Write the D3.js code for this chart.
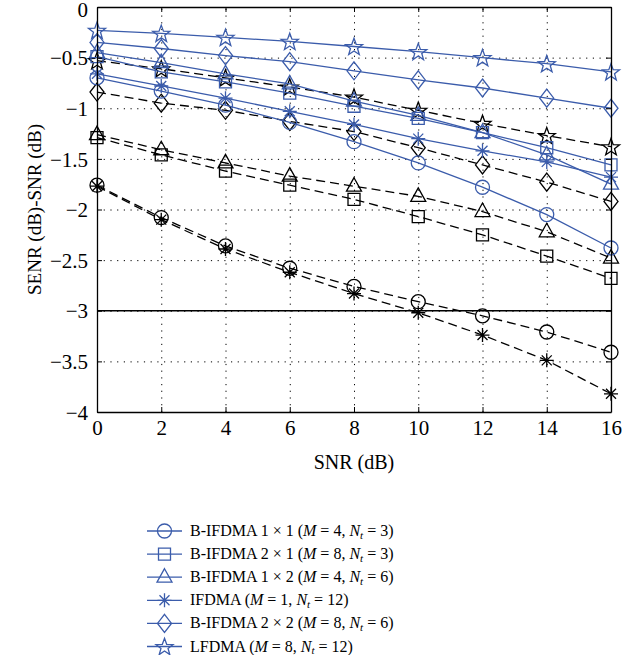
<!DOCTYPE html>
<html>
<head>
<meta charset="utf-8">
<script src="https://cdn.jsdelivr.net/npm/d3@7"></script>
<style>
  body { margin: 0; background: #fff; }
  text { font-family: "Liberation Serif", "Times New Roman", serif; }
</style>
</head>
<body>
<div id="main"></div>
<script>
'use strict'

// data
const snr = [0, 2, 4, 6, 8, 10, 12, 14, 16];
const xTicks = [0, 2, 4, 6, 8, 10, 12, 14, 16];
const yTicks = [0, -0.5, -1, -1.5, -2, -2.5, -3, -3.5, -4];
const refLevel = -3;

// solid blue curves
const blueCircle   = [-0.70, -0.83, -0.97, -1.14, -1.33, -1.54, -1.78, -2.05, -2.38];
const blueSquare   = [-0.49, -0.64, -0.74, -0.85, -0.98, -1.10, -1.24, -1.39, -1.56];
const blueTriangle = [-0.45, -0.55, -0.66, -0.76, -0.93, -1.07, -1.24, -1.46, -1.75];
const blueStarAst  = [-0.66, -0.78, -0.90, -1.03, -1.16, -1.30, -1.42, -1.53, -1.68];
const blueDiamond  = [-0.35, -0.41, -0.48, -0.54, -0.63, -0.72, -0.80, -0.90, -1.00];
const bluePenta    = [-0.23, -0.26, -0.30, -0.34, -0.39, -0.44, -0.50, -0.56, -0.64];

// dashed black curves
const blackCircle   = [-1.76, -2.08, -2.36, -2.58, -2.76, -2.91, -3.05, -3.21, -3.41];
const blackSquare   = [-1.29, -1.46, -1.62, -1.76, -1.90, -2.07, -2.25, -2.46, -2.68];
const blackTriangle = [-1.26, -1.41, -1.54, -1.67, -1.77, -1.87, -2.02, -2.22, -2.48];
const blackStarAst  = [-1.77, -2.10, -2.39, -2.62, -2.83, -3.02, -3.24, -3.49, -3.82];
const blackDiamond  = [-0.84, -0.95, -1.02, -1.13, -1.23, -1.39, -1.56, -1.73, -1.92];
const blackPenta    = [-0.53, -0.61, -0.70, -0.79, -0.89, -1.02, -1.15, -1.27, -1.38];

const markers = ["circle", "square", "triangle", "asterisk", "diamond", "star"];
const legendLabels = [
  ["B-IFDMA 1 \u00d7 1 (", "4", "3"],
  ["B-IFDMA 2 \u00d7 1 (", "8", "3"],
  ["B-IFDMA 1 \u00d7 2 (", "4", "6"],
  ["IFDMA (", "1", "12"],
  ["B-IFDMA 2 \u00d7 2 (", "8", "6"],
  ["LFDMA (", "8", "12"]
];

const blue = "#3b5cab";

document.addEventListener('DOMContentLoaded', function(){
  drawChart();
});

function markerPath(type){
  if (type === "square") return "M-6,-6h12v12h-12Z";
  if (type === "triangle") return "M0,-8.5L7.5,5L-7.5,5Z";
  if (type === "diamond") return "M0,-9L7,0L0,9L-7,0Z";
  if (type === "asterisk") {
    let r = 7, d = 5;
    return `M${-r},0H${r}M0,${-r}V${r}M${-d},${-d}L${d},${d}M${-d},${d}L${d},${-d}`;
  }
  if (type === "star") {
    let pts = [];
    for (let i = 0; i < 10; i++) {
      let rad = i % 2 === 0 ? 9 : 3.7;
      let a = -Math.PI / 2 + i * Math.PI / 5;
      pts.push([rad * Math.cos(a), rad * Math.sin(a) + 0.8]);
    }
    return "M" + pts.map(p => p[0].toFixed(2) + "," + p[1].toFixed(2)).join("L") + "Z";
  }
  return "M7,0A7,7 0 1,1 -7,0A7,7 0 1,1 7,0Z";
}

function drawChart(){
  let svgWidth = 638;
  let svgHeight = 655;
  let left = 97, right = 611, top = 7, bottom = 412;

  let svg = d3.select('#main')
    .append('svg')
    .attr('width', svgWidth)
    .attr('height', svgHeight);

  let xScale = d3.scaleLinear().domain([0, 16]).range([left, right]);
  let yScale = d3.scaleLinear().domain([-4, 0]).range([bottom, top]);

  // grid
  svg.append("g")
    .attr("transform", "translate(0," + bottom + ")")
    .call(d3.axisBottom(xScale).tickValues(xTicks).tickSize(-(bottom - top)).tickFormat(""))
    .call(g => g.select(".domain").remove())
    .selectAll("line").attr("stroke", "#000").attr("stroke-dasharray", "1.2,5.5");
  svg.append("g")
    .attr("transform", "translate(" + left + ",0)")
    .call(d3.axisLeft(yScale).tickValues(yTicks).tickSize(-(right - left)).tickFormat(""))
    .call(g => g.select(".domain").remove())
    .selectAll("line").attr("stroke", "#000").attr("stroke-dasharray", "1.2,5.5");

  // reference line
  svg.append("line")
    .attr("x1", left).attr("x2", right)
    .attr("y1", yScale(refLevel)).attr("y2", yScale(refLevel))
    .attr("stroke", "#000").attr("stroke-width", 1.3);

  let line = d3.line().x((d, i) => xScale(snr[i])).y(d => yScale(d));

  let blackSets = [blackCircle, blackSquare, blackTriangle, blackStarAst, blackDiamond, blackPenta];
  let blueSets = [blueCircle, blueSquare, blueTriangle, blueStarAst, blueDiamond, bluePenta];

  function drawSeries(values, type, color, dashed){
    svg.append("path")
      .attr("d", line(values))
      .attr("fill", "none")
      .attr("stroke", color)
      .attr("stroke-width", 1.3)
      .attr("stroke-dasharray", dashed ? "9,5" : null);
    svg.append("g").selectAll("path")
      .data(values)
      .enter()
      .append("path")
      .attr("transform", (d, i) => "translate(" + xScale(snr[i]) + "," + yScale(d) + ")")
      .attr("d", markerPath(type))
      .attr("fill", "none")
      .attr("stroke", color)
      .attr("stroke-width", 1.3);
  }

  blackSets.forEach((s, i) => drawSeries(s, markers[i], "#000", true));
  blueSets.forEach((s, i) => drawSeries(s, markers[i], blue, false));

  // axes
  let fmt = d => d === 0 ? "0" : "\u2212" + Math.abs(d);
  let yAxis = svg.append("g")
    .attr("transform", "translate(" + left + ",0)")
    .call(d3.axisLeft(yScale).tickValues(yTicks).tickSize(-5).tickSizeOuter(0).tickPadding(9).tickFormat(fmt));
  let xAxis = svg.append("g")
    .attr("transform", "translate(0," + bottom + ")")
    .call(d3.axisBottom(xScale).tickValues(xTicks).tickSize(-5).tickSizeOuter(0).tickPadding(8));
  svg.append("g")
    .attr("transform", "translate(" + right + ",0)")
    .call(d3.axisRight(yScale).tickValues(yTicks).tickSize(-5).tickSizeOuter(0).tickFormat(""));
  svg.append("g")
    .attr("transform", "translate(0," + top + ")")
    .call(d3.axisTop(xScale).tickValues(xTicks).tickSize(-5).tickSizeOuter(0).tickFormat(""));

  svg.selectAll(".domain").attr("stroke", "#000").attr("stroke-width", 1.3);
  svg.selectAll(".tick text").attr("font-size", "21px").attr("fill", "#000")
    .style("font-family", '"Liberation Serif", serif');
  yAxis.selectAll(".tick text").attr("dy", d => d === 0 ? "0.45em" : "0.34em");
  xAxis.selectAll(".tick text").attr("dy", "0.72em");

  // axis titles
  svg.append("text")
    .text("SNR (dB)")
    .attr("x", (left + right) / 2)
    .attr("y", 469)
    .attr("text-anchor", "middle")
    .attr("font-size", "20px");
  svg.append("text")
    .text("SENR (dB)-SNR (dB)")
    .attr("transform", "translate(41," + ((top + bottom) / 2) + ") rotate(-90)")
    .attr("text-anchor", "middle")
    .attr("font-size", "19px");

  // legend
  let legend = svg.append("g").attr("transform", "translate(147,531)");
  legendLabels.forEach((lab, i) => {
    let row = legend.append("g").attr("transform", "translate(0," + (i * 23.1) + ")");
    row.append("line").attr("x1", 0).attr("x2", 35).attr("stroke", blue).attr("stroke-width", 1.3);
    row.append("path").attr("d", markerPath(markers[i]))
      .attr("transform", "translate(17.5,0)")
      .attr("fill", "none").attr("stroke", blue).attr("stroke-width", 1.3);
    let t = row.append("text").attr("x", 43).attr("y", 5).attr("font-size", "16px");
    t.append("tspan").text(lab[0]);
    t.append("tspan").attr("font-style", "italic").text("M");
    t.append("tspan").text(" = " + lab[1] + ", ");
    t.append("tspan").attr("font-style", "italic").text("N");
    t.append("tspan").attr("font-style", "italic").attr("font-size", "11px").attr("dy", 2.5).text("t");
    t.append("tspan").attr("dy", -2.5).text(" = " + lab[2] + ")");
  });
}
</script>
</body>
</html>
